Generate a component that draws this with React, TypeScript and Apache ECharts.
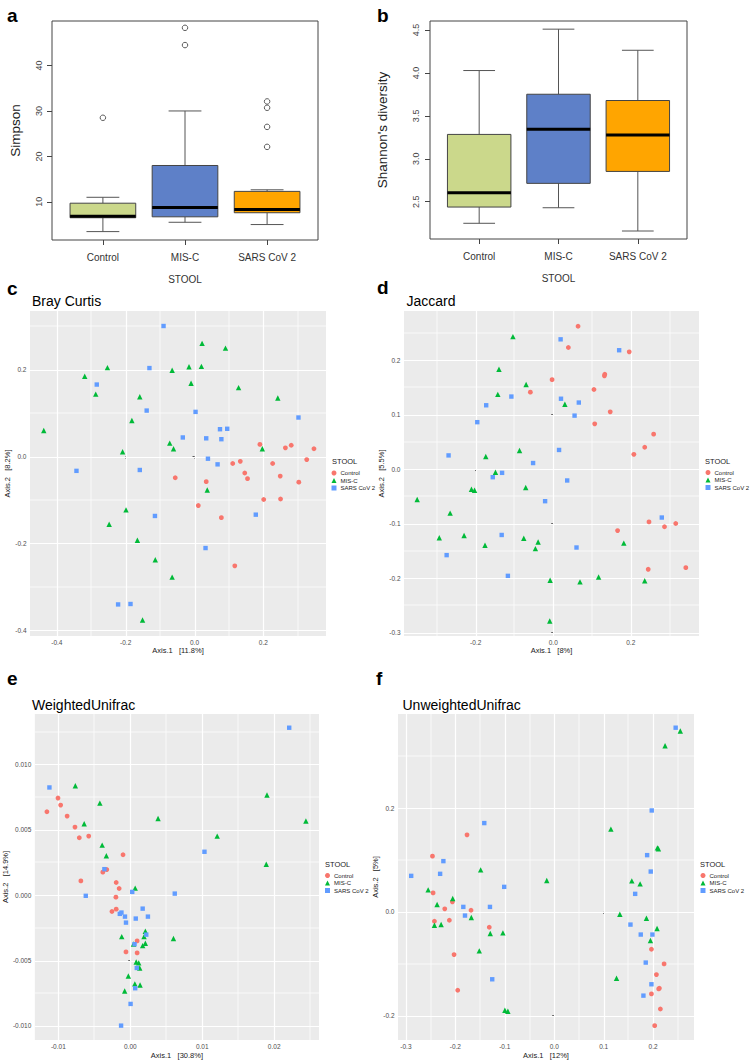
import React, { useEffect, useRef } from "react";
import * as echarts from "echarts";

const FONT = "'Liberation Sans', Arial, Helvetica, sans-serif";

// ---------- shared ----------
const groups = ["Control", "MIS-C", "SARS CoV 2"];
const boxColors = ["#CBD88B", "#5E80C8", "#FFA500"];
const pointColors = ["#F8766D", "#00BA38", "#619CFF"];
const pointSymbols = ["circle", "triangle", "rect"];
const pointSizes = [4.8, 5.4, 4.4];

// ---------- panel a : Simpson ----------
// [low whisker, Q1, median, Q3, high whisker]
const simpsonStats = [
  [3.45, 6.5, 6.85, 9.7, 11.0],
  [5.5, 6.7, 8.75, 18.0, 30.0],
  [5.0, 7.6, 8.3, 12.3, 12.65],
];
const simpsonOutliers = [
  [1, 28.5],
  [2, 48.3],
  [2, 44.5],
  [3, 32.1],
  [3, 30.7],
  [3, 26.5],
  [3, 22.1],
];
const simpsonTicks = [10, 20, 30, 40];
const simpsonRange = [1.6, 49.8];

// ---------- panel b : Shannon ----------
const shannonStats = [
  [2.249, 2.438, 2.605, 3.284, 4.028],
  [2.43, 2.714, 3.345, 3.752, 4.51],
  [2.159, 2.853, 3.276, 3.679, 4.264],
];
const shannonTicks = [2.5, 3.0, 3.5, 4.0, 4.5];
const shannonRange = [2.066, 4.605];
const boxXRange = [0.38, 3.62];
const boxXTicks = [1, 2, 3];

// ---------- panel c : Bray Curtis ----------
const brayControl = [
  [0.19, 0.028], [0.264, 0.02], [0.281, 0.026], [0.347, 0.018], [0.326, -0.007],
  [0.111, -0.016], [0.133, -0.011], [0.227, -0.016], [0.146, -0.038], [0.154, -0.051],
  [0.249, -0.045], [0.303, -0.059], [-0.056, -0.049], [0.034, -0.058], [0.201, -0.099],
  [0.25, -0.098], [0.011, -0.113], [0.078, -0.141], [0.117, -0.252],
];
const brayMisc = [
  [0.022, 0.261], [0.09, 0.25], [-0.016, 0.207], [0.02, 0.208], [-0.065, 0.199],
  [-0.253, 0.205], [-0.319, 0.185], [-0.287, 0.144], [-0.01, 0.169], [0.128, 0.159],
  [0.242, 0.135], [-0.159, 0.138], [-0.182, 0.083], [-0.438, 0.06], [-0.072, 0.031],
  [-0.061, 0.018], [-0.209, 0.011], [0.197, 0.018], [0.037, -0.077], [-0.199, -0.123],
  [-0.248, -0.156], [-0.166, -0.193], [-0.114, -0.238], [-0.065, -0.278], [-0.151, -0.377],
];
const braySars = [
  [-0.09, 0.301], [-0.284, 0.166], [-0.131, 0.204], [-0.139, 0.106], [0.003, 0.103],
  [-0.034, 0.044], [0.034, 0.042], [0.074, 0.063], [0.095, 0.064], [0.078, 0.04],
  [0.302, 0.09], [0.039, -0.005], [0.067, -0.018], [-0.343, -0.033], [-0.159, -0.031],
  [-0.115, -0.137], [0.178, -0.134], [0.032, -0.211], [-0.222, -0.341], [-0.186, -0.34],
];
const brayXRange = [-0.478, 0.382];
const brayYRange = [-0.4138, 0.3356];
const brayXTicks = [-0.4, -0.2, 0, 0.2];
const brayXMinor = [-0.3, -0.1, 0.1, 0.3];
const brayYTicks = [-0.4, -0.2, 0, 0.2];
const brayYMinor = [-0.3, -0.1, 0.1, 0.3];

// ---------- panel d : Jaccard ----------
const jaccardControl = [
  [0.064, 0.262], [0.039, 0.223], [0.196, 0.215], [0.133, 0.174], [0.132, 0.171],
  [-0.003, 0.164], [-0.059, 0.141], [0.105, 0.146], [0.147, 0.105], [0.107, 0.083],
  [0.259, 0.064], [0.236, 0.04], [0.208, 0.027], [0.247, -0.097], [0.287, -0.106],
  [0.316, -0.1], [0.166, -0.113], [0.245, -0.184], [0.342, -0.181],
];
const jaccardMisc = [
  [-0.104, 0.243], [-0.14, 0.183], [-0.07, 0.155], [-0.143, 0.137], [0.03, 0.119],
  [-0.087, 0.034], [-0.174, 0.023], [-0.149, -0.006], [-0.211, -0.037], [-0.203, -0.039],
  [-0.071, -0.034], [-0.351, -0.056], [-0.266, -0.081], [-0.294, -0.126], [-0.23, -0.122],
  [-0.176, -0.14], [-0.076, -0.127], [-0.039, -0.134], [-0.046, -0.146], [0.182, -0.136],
  [-0.008, -0.204], [0.069, -0.207], [0.117, -0.198], [0.236, -0.205], [-0.009, -0.279],
];
const jaccardSars = [
  [0.019, 0.238], [0.17, 0.218], [-0.108, 0.133], [-0.173, 0.117], [0.02, 0.129],
  [0.066, 0.122], [0.055, 0.098], [-0.196, 0.086], [-0.27, 0.025], [0.015, 0.035],
  [-0.052, 0.011], [-0.132, -0.007], [-0.156, -0.015], [0.036, -0.021], [-0.021, -0.059],
  [0.28, -0.089], [-0.133, -0.121], [0.06, -0.144], [-0.275, -0.158], [-0.117, -0.196],
];
const jaccardXRange = [-0.385, 0.376];
const jaccardYRange = [-0.3064, 0.29];
const jaccardXTicks = [-0.2, 0, 0.2];
const jaccardXMinor = [-0.3, -0.1, 0.1, 0.3];
const jaccardYTicks = [-0.3, -0.2, -0.1, 0, 0.1, 0.2];
const jaccardYMinor = [-0.25, -0.15, -0.05, 0.05, 0.15, 0.25];

// ---------- panel e : Weighted Unifrac ----------
const wuControl = [
  [-0.01005, 0.00743], [-0.00968, 0.00689], [-0.01159, 0.00638], [-0.00878, 0.00605],
  [-0.00769, 0.00521], [-0.00709, 0.00439], [-0.00578, 0.00452], [-0.00101, 0.00309],
  [-0.00327, 0.00196], [-0.00382, 0.00176], [-0.00687, 0.00109], [-0.00196, 0.00097],
  [-0.00155, 0.00051], [-0.002, -0.00015], [-0.00196, -0.00107], [-0.00255, -0.00125],
  [0.00095, -0.0035], [-0.0006, -0.00434], [0.00095, -0.00442],
];
const wuMisc = [
  [-0.00764, 0.00837], [0.019, 0.00766], [-0.00423, 0.00704], [0.00386, 0.00587],
  [0.02441, 0.00567], [-0.00641, 0.00546], [0.01208, 0.00452], [-0.00391, 0.00383],
  [-0.00333, 0.00301], [0.0189, 0.00237], [0.00068, 0.00054], [-0.00119, -0.00317],
  [0.006, -0.00332], [0.00209, -0.00276], [0.00191, -0.00317], [0.00209, -0.00368],
  [0.00172, -0.00386], [0.00045, -0.00373], [0.00082, -0.00511], [0.00117, -0.00518],
  [0.00131, -0.00557], [-0.00027, -0.00618], [0.00063, -0.00679], [0.00136, -0.00687],
  [-0.00078, -0.00733],
];
const wuSars = [
  [0.02209, 0.01281], [-0.01124, 0.00824], [0.01031, 0.00332], [-0.0036, 0.00199],
  [-0.00619, -0.00005], [0.00027, 0.00025], [0.00618, 0.00012], [0.00172, -0.00103],
  [-0.00123, -0.00133], [-0.00146, -0.00143], [-0.00074, -0.00164], [0.00076, -0.00179],
  [0.00245, -0.00164], [-0.0006, -0.0021], [0.00222, -0.00302], [0.00059, -0.00375],
  [0.0009, -0.00557], [0.00068, -0.00712], [0.00004, -0.00832], [-0.00128, -0.00998],
];
const wuXRange = [-0.01327, 0.02623];
const wuYRange = [-0.01108, 0.01386];
const wuXTicks = [-0.01, 0, 0.01, 0.02];
const wuXMinor = [-0.005, 0.005, 0.015, 0.025];
const wuYTicks = [-0.01, -0.005, 0, 0.005, 0.01];
const wuYMinor = [-0.0075, -0.0025, 0.0025, 0.0075, 0.0125];

// ---------- panel f : Unweighted Unifrac ----------
const uuControl = [
  [-0.1764, 0.1485], [-0.2463, 0.1074], [-0.245, 0.0366], [-0.206, 0.0193], [-0.2214, 0.0058],
  [-0.1683, 0.0032], [-0.2423, -0.018], [-0.2121, -0.0161], [-0.1314, -0.0296], [-0.2026, -0.0823],
  [0.1966, -0.072], [0.2222, -0.1003], [0.2067, -0.1209], [0.2127, -0.1472], [0.2113, -0.1485],
  [0.1966, -0.1581], [-0.1952, -0.1511], [0.2147, -0.1871], [0.2032, -0.2193],
];
const uuMisc = [
  [0.255, 0.3485], [0.2242, 0.3202], [0.1146, 0.1594], [0.2087, 0.1234], [0.2107, 0.1215],
  [-0.1488, 0.081], [-0.0151, 0.0604], [0.1569, 0.0598], [0.1737, 0.054], [-0.255, 0.0424],
  [-0.2053, 0.0257], [-0.2369, 0.0141], [0.1327, -0.0045], [-0.1677, -0.0109], [0.1865, -0.0122],
  [-0.2423, -0.0257], [-0.2288, -0.0244], [-0.1294, -0.0418], [-0.1038, -0.0405], [0.208, -0.0321],
  [0.1946, -0.0553], [-0.1516, -0.0752], [0.126, -0.1279], [-0.0998, -0.1896], [-0.0938, -0.1915],
];
const uuSars = [
  [0.2456, 0.3549], [0.1972, 0.1954], [-0.1415, 0.1711], [-0.2242, 0.0978], [0.1879, 0.1093],
  [-0.2893, 0.0694], [-0.2308, 0.0733], [0.1952, 0.0777], [-0.1012, 0.0482], [0.1637, 0.0347],
  [-0.1839, 0.0096], [-0.13, 0.0096], [-0.1805, -0.0071], [0.1542, -0.0245], [0.175, -0.0437],
  [0.1986, -0.0437], [0.1851, -0.0977], [-0.1254, -0.1299], [0.1966, -0.1395], [0.1804, -0.1614],
];
const uuXRange = [-0.316, 0.2827];
const uuYRange = [-0.2469, 0.3813];
const uuXTicks = [-0.3, -0.2, -0.1, 0, 0.1, 0.2];
const uuXMinor = [-0.25, -0.15, -0.05, 0.05, 0.15, 0.25];
const uuYTicks = [-0.2, 0, 0.2];
const uuYMinor = [-0.1, 0.1, 0.3];

// ---------- layout ----------
const grids = [
  { left: 52, top: 21, width: 266, height: 219 },
  { left: 430, top: 21, width: 257, height: 218 },
  { left: 30, top: 311, width: 296, height: 325 },
  { left: 404, top: 311, width: 295, height: 325 },
  { left: 29, top: 714, width: 290, height: 326 },
  { left: 398, top: 714, width: 296, height: 326 },
];

function boxRenderItem(params: any, api: any) {
  const x = api.value(0);
  const lo = api.value(1), q1 = api.value(2), med = api.value(3), q3 = api.value(4), hi = api.value(5);
  const half = api.size([0.8, 0])[0] / 2;
  const cx = api.coord([x, med])[0];
  const yLo = api.coord([x, lo])[1];
  const yQ1 = api.coord([x, q1])[1];
  const yMed = api.coord([x, med])[1];
  const yQ3 = api.coord([x, q3])[1];
  const yHi = api.coord([x, hi])[1];
  const ws = { stroke: "#555", lineWidth: 1 };
  return {
    type: "group",
    children: [
      { type: "line", shape: { x1: cx, y1: yLo, x2: cx, y2: yQ1 }, style: ws },
      { type: "line", shape: { x1: cx, y1: yQ3, x2: cx, y2: yHi }, style: ws },
      { type: "line", shape: { x1: cx - half / 2, y1: yLo, x2: cx + half / 2, y2: yLo }, style: ws },
      { type: "line", shape: { x1: cx - half / 2, y1: yHi, x2: cx + half / 2, y2: yHi }, style: ws },
      {
        type: "rect",
        shape: { x: cx - half, y: yQ3, width: 2 * half, height: yQ1 - yQ3 },
        style: { fill: boxColors[params.dataIndex], stroke: "#444", lineWidth: 1 },
      },
      { type: "line", shape: { x1: cx - half, y1: yMed, x2: cx + half, y2: yMed }, style: { stroke: "#000", lineWidth: 3 } },
    ],
  };
}

function gridLineRender(params: any, api: any) {
  const v = api.value(0);
  const horiz = api.value(1);
  const major = api.value(2);
  const cs = params.coordSys;
  const style = { stroke: "#FFFFFF", lineWidth: major ? 1.2 : 0.7, opacity: 1 };
  if (horiz) {
    const y = Math.round(api.coord([0, v])[1]) + (major ? 0.5 : 0);
    return { type: "line", z2: 1, shape: { x1: cs.x, y1: y, x2: cs.x + cs.width, y2: y }, style };
  }
  const x = Math.round(api.coord([v, 0])[0]) + (major ? 0.5 : 0);
  return { type: "line", z2: 1, shape: { x1: x, y1: cs.y, x2: x, y2: cs.y + cs.height }, style };
}

function buildOption() {
  const xAxis: any[] = [];
  const yAxis: any[] = [];
  const series: any[] = [];

  // box panels
  const boxPanels = [
    { stats: simpsonStats, ticks: simpsonTicks, range: simpsonRange, yName: "Simpson", nameGap: 30, digits: 0, labelMargin: 9 },
    { stats: shannonStats, ticks: shannonTicks, range: shannonRange, yName: "Shannon's diversity", nameGap: 41, digits: 1, labelMargin: 10 },
  ];
  boxPanels.forEach((p, i) => {
    xAxis.push({
      type: "value", gridIndex: i, min: boxXRange[0], max: boxXRange[1],
      splitLine: { show: false }, axisLine: { show: false },
      axisTick: { show: true, customValues: boxXTicks, length: 5, lineStyle: { color: "#444", width: 1 } },
      axisLabel: {
        customValues: boxXTicks, margin: 12, fontSize: 10, color: "#333", fontFamily: FONT,
        formatter: (v: number) => groups[Math.round(v) - 1],
      },
      name: "STOOL", nameLocation: "middle", nameGap: 34,
      nameTextStyle: { fontSize: 10, color: "#333", fontFamily: FONT },
    });
    yAxis.push({
      type: "value", gridIndex: i, min: p.range[0], max: p.range[1],
      splitLine: { show: false }, axisLine: { show: false },
      axisTick: { show: true, customValues: p.ticks, length: 5, lineStyle: { color: "#444", width: 1 } },
      axisLabel: {
        customValues: p.ticks, rotate: 90, margin: p.labelMargin, fontSize: 9, color: "#444", fontFamily: FONT,
        formatter: (v: number) => v.toFixed(p.digits),
      },
      name: p.yName, nameLocation: "middle", nameRotate: 90, nameGap: p.nameGap,
      nameTextStyle: { fontSize: 13.5, color: "#222", fontFamily: FONT },
    });
    series.push({
      type: "custom", name: p.yName, xAxisIndex: i, yAxisIndex: i, silent: true, z: 2,
      encode: { x: 0, y: [1, 2, 3, 4, 5] },
      data: p.stats.map((s, k) => [boxXTicks[k], ...s]),
      renderItem: boxRenderItem,
    });
  });
  series.push({
    type: "scatter", name: "outliers", xAxisIndex: 0, yAxisIndex: 0, silent: true, z: 3,
    data: simpsonOutliers, symbol: "circle", symbolSize: 5.5,
    itemStyle: { color: "#FFFFFF", borderColor: "#333", borderWidth: 1 },
  });

  // scatter panels
  const scatterPanels = [
    {
      sets: [brayControl, brayMisc, braySars], xr: brayXRange, yr: brayYRange,
      xt: brayXTicks, xm: brayXMinor, yt: brayYTicks, ym: brayYMinor, xd: 1, yd: 1,
      xName: "Axis.1   [11.8%]", yName: "Axis.2   [8.2%]", yGap: 12, xGap: 9,
    },
    {
      sets: [jaccardControl, jaccardMisc, jaccardSars], xr: jaccardXRange, yr: jaccardYRange,
      xt: jaccardXTicks, xm: jaccardXMinor, yt: jaccardYTicks, ym: jaccardYMinor, xd: 1, yd: 1,
      xName: "Axis.1   [8%]", yName: "Axis.2   [5.5%]", yGap: 11.5, xGap: 9,
    },
    {
      sets: [wuControl, wuMisc, wuSars], xr: wuXRange, yr: wuYRange,
      xt: wuXTicks, xm: wuXMinor, yt: wuYTicks, ym: wuYMinor, xd: 2, yd: 3,
      xName: "Axis.1   [30.8%]", yName: "Axis.2   [14.9%]", yGap: 19, xGap: 11,
    },
    {
      sets: [uuControl, uuMisc, uuSars], xr: uuXRange, yr: uuYRange,
      xt: uuXTicks, xm: uuXMinor, yt: uuYTicks, ym: uuYMinor, xd: 1, yd: 1,
      xName: "Axis.1   [12%]", yName: "Axis.2   [5%]", yGap: 12.5, xGap: 11,
    },
  ];
  const tickStyle = { color: "#333", width: 0.8 };
  const tickLabel = { fontSize: 6.5, color: "#4D4D4D", fontFamily: FONT };
  const nameStyle = { fontSize: 7.5, color: "#1A1A1A", fontFamily: FONT };
  scatterPanels.forEach((p, j) => {
    const gi = j + 2;
    xAxis.push({
      type: "value", gridIndex: gi, min: p.xr[0], max: p.xr[1],
      splitLine: { show: false }, axisLine: { show: false },
      axisTick: { show: true, customValues: p.xt, length: 2, lineStyle: tickStyle },
      axisLabel: { customValues: p.xt, margin: 3, ...tickLabel, formatter: (v: number) => v.toFixed(p.xd) },
      name: p.xName, nameLocation: "middle", nameGap: p.xGap, nameTextStyle: nameStyle,
    });
    yAxis.push({
      type: "value", gridIndex: gi, min: p.yr[0], max: p.yr[1],
      splitLine: { show: false }, axisLine: { show: false },
      axisTick: { show: true, customValues: p.yt, length: 2, lineStyle: tickStyle },
      axisLabel: { customValues: p.yt, margin: 3.5, ...tickLabel, formatter: (v: number) => v.toFixed(p.yd) },
      name: p.yName, nameLocation: "middle", nameRotate: 90, nameGap: p.yGap, nameTextStyle: nameStyle,
    });
    const lines = [
      ...p.xm.map((v) => [v, 0, 0]),
      ...p.ym.map((v) => [v, 1, 0]),
      ...p.xt.map((v) => [v, 0, 1]),
      ...p.yt.map((v) => [v, 1, 1]),
    ];
    series.push({
      type: "custom", name: "gridlines", xAxisIndex: gi, yAxisIndex: gi, silent: true, z: 1,
      data: lines, renderItem: gridLineRender,
    });
    p.sets.forEach((d, g) => {
      series.push({
        type: "scatter", name: groups[g], xAxisIndex: gi, yAxisIndex: gi, silent: true, z: 3,
        data: d, symbol: pointSymbols[g], symbolSize: pointSizes[g],
        itemStyle: { color: pointColors[g], opacity: 1 },
      });
    });
  });

  const gridOpts = grids.map((g, i) =>
    i < 2
      ? { ...g, show: true, borderColor: "#444", borderWidth: 1, backgroundColor: "transparent" }
      : { ...g, show: true, borderWidth: 0, backgroundColor: "#EBEBEB" }
  );

  const legendPos = [
    { left: 331.5, top: 470 },
    { left: 705.5, top: 469.5 },
    { left: 325, top: 872.5 },
    { left: 700.5, top: 872.5 },
  ];
  const legend = legendPos.map((pos) => ({
    ...pos, orient: "vertical", data: groups, selectedMode: false, padding: 0,
    itemWidth: 5, itemHeight: 5, itemGap: 1.5,
    textStyle: { fontSize: 6, color: "#1A1A1A", fontFamily: FONT, padding: [0, 0, 0, -1] },
  }));

  const txt = (text: string, x: number, y: number, size: number, weight = "normal", color = "#000") => ({
    type: "text", x, y, silent: true,
    style: { text, fontSize: size, fontWeight: weight, fontFamily: FONT, fill: color, align: "left", verticalAlign: "middle" },
  });
  const graphic = [
    txt("a", 7, 15, 19, "bold"),
    txt("b", 377, 15, 19, "bold"),
    txt("c", 7, 288, 19, "bold"),
    txt("d", 377, 287, 19, "bold"),
    txt("e", 7, 678, 19, "bold"),
    txt("f", 376, 678, 19, "bold"),
    txt("Bray Curtis", 32, 301, 14),
    txt("Jaccard", 406.5, 301, 14),
    txt("WeightedUnifrac", 32, 705, 14),
    txt("UnweightedUnifrac", 402.5, 705, 14),
    txt("STOOL", 332, 461, 7.5, "normal", "#1A1A1A"),
    txt("STOOL", 705, 461, 7.5, "normal", "#1A1A1A"),
    txt("STOOL", 325, 864, 7.5, "normal", "#1A1A1A"),
    txt("STOOL", 700, 864, 7.5, "normal", "#1A1A1A"),
  ];

  return {
    animation: false,
    backgroundColor: "#FFFFFF",
    textStyle: { fontFamily: FONT },
    grid: gridOpts,
    xAxis,
    yAxis,
    legend,
    graphic,
    series,
  };
}

export default function App() {
  const ref = useRef<HTMLDivElement>(null);
  useEffect(() => {
    const chart = echarts.init(ref.current as HTMLDivElement, null, { renderer: "svg" });
    chart.setOption(buildOption() as any);
    return () => chart.dispose();
  }, []);
  return (
    <div
      ref={ref}
      style={{ position: "absolute", left: 0, top: 0, width: 750, height: 1062, background: "#fff" }}
    />
  );
}
